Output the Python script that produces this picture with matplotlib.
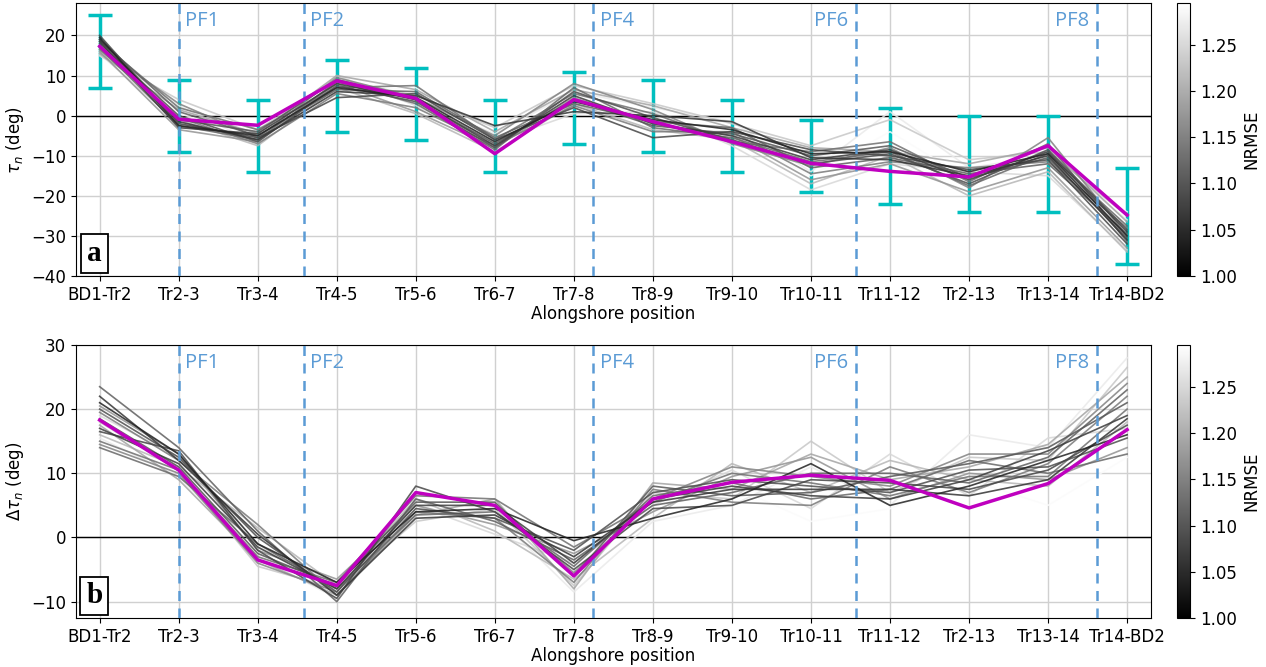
import numpy as np
import matplotlib
matplotlib.use("Agg")
import matplotlib.pyplot as plt
from matplotlib import cm, colors as mcolors

plt.rcParams['font.size'] = 12

positions = ['BD1-Tr2', 'Tr2-3', 'Tr3-4', 'Tr4-5', 'Tr5-6', 'Tr6-7', 'Tr7-8',
             'Tr8-9', 'Tr9-10', 'Tr10-11', 'Tr11-12', 'Tr2-13', 'Tr13-14', 'Tr14-BD2']

# PF locations between transects
pf_names = ['PF1', 'PF2', 'PF4', 'PF6', 'PF8']
pf_pos = [1.0, 2.58, 6.245, 9.575, 12.62]
pf_side = ['right', 'right', 'right', 'left', 'left']

# observed tau_n with uncertainty
obs_tau = [16, 0, -5, 5, 3, -5, 2, 0, -5, -10, -10, -12, -12, -25]
obs_err = [9, 9, 9, 9, 9, 9, 9, 9, 9, 9, 12, 12, 12, 12]

# best run
best_tau = [17.3, -0.9, -2.4, 8.7, 4.3, -9.5, 4.0, -1.5, -6.5, -11.9, -13.9, -15.3, -7.5, -24.8]
best_dtau = [18.3, 10.5, -3.5, -7.5, 7.0, 5.0, -6.0, 6.0, 8.6, 9.7, 8.9, 4.6, 8.4, 16.8]

# ensemble runs: NRMSE and alongshore values
ens_nrmse = [1.04, 1.06, 1.07, 1.08, 1.09, 1.10, 1.11, 1.12, 1.13,
             1.14, 1.15, 1.17, 1.19, 1.21, 1.23, 1.25, 1.27, 1.29]

ens_tau = [
    [19.5, -2.5, -5.0, 7.0, 4.5, -6.5, 3.5, -1.0, -3.5, -9.5, -9.0, -14.0, -9.5, -30.0],
    [19.0, -1.5, -6.0, 6.0, 5.0, -2.5, 1.0, 0.0, -1.5, -10.5, -11.0, -15.0, -10.0, -31.0],
    [18.5, -3.0, -4.5, 8.0, 4.0, -7.5, 5.0, -2.0, -5.0, -11.0, -8.5, -16.0, -9.0, -29.0],
    [20.0, -2.0, -5.5, 4.5, 5.5, -6.0, 2.0, -5.5, -4.0, -8.5, -10.0, -13.5, -11.0, -32.0],
    [18.0, 0.0, -6.5, 7.5, 3.5, -8.0, 6.0, -0.5, -6.0, -12.0, -9.5, -17.0, -8.5, -28.5],
    [17.5, -1.0, -4.0, 9.0, 4.0, -7.0, 4.0, -2.5, -4.5, -10.0, -7.5, -15.5, -10.5, -30.5],
    [19.0, 1.0, -5.0, 6.5, 6.0, -5.5, 3.0, -1.5, -3.0, -13.0, -10.5, -14.5, -12.0, -29.5],
    [17.0, -2.5, -6.0, 8.5, 3.0, -8.5, 7.0, -3.0, -5.5, -11.5, -9.0, -17.5, -9.5, -27.5],
    [18.5, 2.0, -3.5, 7.0, 7.5, -6.0, 5.5, 0.5, -6.5, -9.0, -6.5, -16.5, -7.0, -31.5],
    [16.5, -0.5, -7.0, 5.5, 2.0, -7.5, 2.5, -4.0, -4.0, -14.5, -11.5, -13.0, -11.5, -28.0],
    [17.0, 3.0, -5.5, 9.5, 4.5, -5.0, 8.0, 1.5, -7.0, -12.5, -8.0, -18.0, -5.5, -30.0],
    [16.0, -3.5, -6.5, 8.0, 1.0, -8.0, 4.5, -2.0, -5.0, -16.0, -12.0, -19.0, -13.0, -33.0],
    [15.5, 1.5, -4.5, 10.0, 6.5, -4.0, 6.5, 2.5, -3.0, -8.0, -9.0, -12.0, -8.0, -26.5],
    [16.5, -1.0, -7.5, 7.0, 0.5, -9.0, 3.0, -3.5, -6.0, -17.0, -10.0, -20.0, -14.0, -34.0],
    [15.0, 4.0, -3.5, 9.0, 5.0, -3.0, 7.5, 3.0, -2.0, -7.5, -1.0, -11.0, -9.0, -25.0],
    [15.5, -2.0, -6.0, 10.0, 2.5, -6.5, 0.5, 1.0, -7.5, -18.5, -12.0, -14.0, -15.0, -33.5],
    [16.0, 2.5, -7.0, 8.5, 3.5, -4.5, 6.0, 2.0, -1.5, -14.0, 1.0, -13.0, -10.0, -26.0],
    [15.0, 0.5, -5.0, 6.0, 7.0, -5.5, 2.0, -1.0, -5.0, -15.0, -4.0, -16.0, -12.0, -24.0],
]

ens_dtau = [
    [21.0, 13.0, -1.0, -7.0, 4.0, 4.5, -0.5, 3.0, 6.0, 11.5, 5.0, 8.0, 12.0, 16.0],
    [22.0, 12.0, 0.5, -9.0, 3.0, 3.5, -3.0, 5.5, 7.5, 7.5, 7.5, 6.5, 9.0, 18.5],
    [17.0, 11.5, -1.5, -8.0, 5.0, 5.0, -4.0, 6.0, 8.0, 6.5, 6.0, 9.0, 13.5, 19.0],
    [16.5, 13.5, -2.0, -9.5, 8.0, 4.0, -5.0, 4.5, 5.0, 9.0, 8.5, 7.5, 10.5, 17.5],
    [20.0, 12.5, 0.0, -8.5, 4.5, 3.0, -2.0, 7.0, 9.0, 8.0, 7.0, 10.5, 11.0, 15.5],
    [18.5, 11.0, -2.5, -7.5, 5.5, 5.5, -6.0, 8.0, 6.5, 7.0, 9.5, 11.5, 14.0, 21.0],
    [23.5, 14.0, 1.0, -10.0, 6.0, 2.5, -3.5, 5.0, 7.0, 10.0, 10.0, 8.5, 12.5, 23.0],
    [14.0, 9.5, -1.0, -8.0, 3.5, 4.0, -4.5, 6.5, 8.5, 6.0, 7.5, 12.0, 10.0, 13.0],
    [15.0, 10.5, -3.0, -7.0, 6.5, 6.0, -1.5, 5.5, 10.0, 8.5, 6.5, 9.5, 9.5, 20.0],
    [19.5, 12.0, 2.0, -9.0, 4.0, 3.0, -7.0, 7.5, 5.5, 5.0, 11.0, 7.0, 11.5, 22.0],
    [14.5, 10.0, -4.0, -8.5, 7.0, 5.0, -5.5, 6.0, 11.0, 9.5, 8.0, 13.0, 13.0, 24.0],
    [20.5, 13.0, -2.0, -6.5, 5.0, 2.0, -2.5, 4.0, 9.5, 12.5, 6.0, 10.0, 9.0, 14.0],
    [17.5, 9.0, -3.5, -9.0, 3.5, 6.0, -8.0, 8.5, 7.5, 13.0, 9.0, 11.0, 14.5, 25.0],
    [16.0, 11.0, 1.5, -7.5, 6.0, 1.0, -6.5, 3.0, 11.5, 7.0, 12.0, 9.0, 8.0, 18.0],
    [18.0, 10.5, -4.5, -8.0, 2.5, 4.5, -7.5, 7.0, 6.0, 15.0, 7.0, 12.5, 12.0, 26.5],
    [19.0, 12.5, -1.5, -7.0, 5.0, 0.5, -4.0, 5.0, 10.5, 4.5, 13.0, 6.5, 15.5, 17.0],
    [15.5, 9.5, -3.0, -9.5, 4.0, 3.5, -8.5, 2.5, 5.0, 11.0, 5.0, 16.0, 14.0, 28.0],
    [17.0, 11.0, 0.5, -8.0, 3.0, 6.0, -5.0, 6.5, 8.0, 2.5, 4.5, 9.0, 5.0, 12.5],
]

x = np.arange(len(positions))
norm = mcolors.Normalize(vmin=1.0, vmax=1.295)
cmap = plt.get_cmap('gray')
pf_color = '#5B9BD5'

fig = plt.figure(figsize=(12.66, 6.67), dpi=100)
ax1 = fig.add_axes([0.0600, 0.5862, 0.8490, 0.4093])
ax2 = fig.add_axes([0.0600, 0.0730, 0.8490, 0.4098])
cax1 = fig.add_axes([0.9295, 0.5862, 0.0105, 0.4093])
cax2 = fig.add_axes([0.9295, 0.0730, 0.0105, 0.4098])


def draw_panel(ax, ens, best, ylim, letter, ylabel, yticks):
    ax.grid(True, color='#d0d0d0', lw=1.0)
    ax.set_axisbelow(True)
    ax.axhline(0, color='k', lw=1.0, zorder=2)
    order = np.argsort(ens_nrmse)[::-1]
    for i in order:
        ax.plot(x, ens[i], color=cmap(norm(ens_nrmse[i])), lw=1.2, alpha=0.85, zorder=3)
    ax.plot(x, best, color='m', lw=2.5, zorder=5)
    for p, name, side in zip(pf_pos, pf_names, pf_side):
        ax.axvline(p, color=pf_color, ls=(0, (4, 3)), lw=1.8, zorder=4)
        dx = 0.08 if side == 'right' else -0.1
        ax.text(p + dx, 0.935, name, transform=ax.get_xaxis_transform(),
                ha='left' if side == 'right' else 'right', va='center',
                color=pf_color, fontsize=14.5, family=['Open Sans', 'DejaVu Sans'])
    ax.set_xlim(-0.3, 13.3)
    ax.set_ylim(*ylim)
    ax.set_yticks(yticks)
    ax.set_xticks(x)
    ax.set_xticklabels(positions)
    ax.set_xlabel('Alongshore position', labelpad=1)
    ax.set_ylabel(ylabel)
    ax.text(0.0172, 0.082, letter, transform=ax.transAxes, ha='center', va='center',
            fontsize=21, fontweight='bold', family='Liberation Serif', zorder=10,
            bbox=dict(boxstyle='square,pad=0.2', fc='white', ec='black', lw=1.3))


draw_panel(ax1, ens_tau, best_tau, (-40, 28.1), 'a', r'$\tau_n$ (deg)',
           [-40, -30, -20, -10, 0, 10, 20])
ax1.errorbar(x, obs_tau, yerr=obs_err, fmt='none', ecolor='c', elinewidth=2.5,
             capsize=8.5, capthick=2.5, zorder=2.5)

draw_panel(ax2, ens_dtau, best_dtau, (-12.6, 30), 'b', r'$\Delta\tau_n$ (deg)',
           [-10, 0, 10, 20, 30])

for cax in (cax1, cax2):
    sm = cm.ScalarMappable(norm=norm, cmap=cmap)
    cb = fig.colorbar(sm, cax=cax, ticks=[1.00, 1.05, 1.10, 1.15, 1.20, 1.25], format='%.2f')
    cb.set_label('NRMSE')
    cb.ax.tick_params(labelsize=12)

fig.savefig('out.png', dpi=100)
